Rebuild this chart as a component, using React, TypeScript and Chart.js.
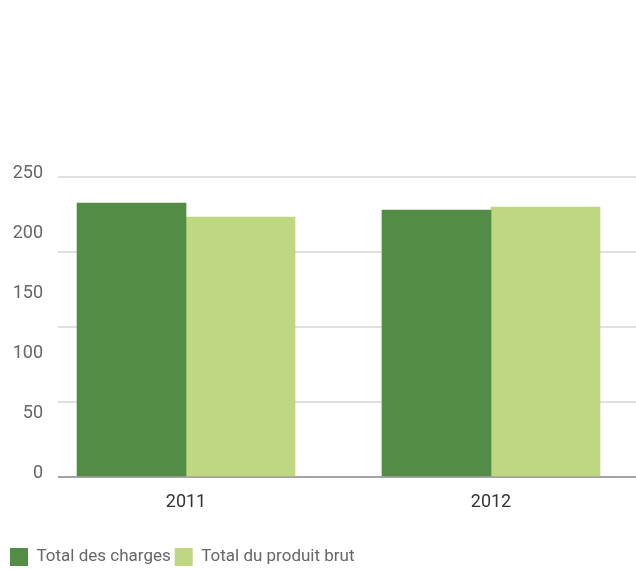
import React, { useEffect, useRef } from "react";
import { Chart, registerables } from "chart.js";

Chart.register(...registerables);

const categories = [2011, 2012];
const seriesNames = ["Total des charges", "Total du produit brut"];
const chargesValues = [228.3, 222.5];
const produitValues = [216.7, 225];
const yLabelTicks = [0, 50, 100, 150, 200, 250];
const yGridLines = [0, 62.5, 125, 187.5, 250];

const DARK = "#538d45";
const LIGHT = "#bdd880";
const FONT = "Roboto";

export default function App() {
  const ref = useRef<HTMLCanvasElement | null>(null);
  useEffect(() => {
    document.body.style.margin = "0";
    const canvas = ref.current;
    if (!canvas) return;
    const allTicks = Array.from(new Set([...yLabelTicks, ...yGridLines])).sort((a, b) => a - b);
    const chart = new Chart(canvas, {
      type: "bar",
      data: {
        datasets: [
          {
            label: seriesNames[0],
            data: categories.map((c, i) => ({ x: c, y: chargesValues[i] })),
            backgroundColor: DARK,
            borderWidth: 0,
            barThickness: 109,
          },
          {
            label: seriesNames[1],
            data: categories.map((c, i) => ({ x: c, y: produitValues[i] })),
            backgroundColor: LIGHT,
            borderWidth: 0,
            barThickness: 109,
          },
        ],
      },
      options: {
        animation: false,
        responsive: false,
        maintainAspectRatio: false,
        layout: { padding: { top: 177, left: 6, right: 0, bottom: 0 } },
        plugins: {
          tooltip: { enabled: false },
          legend: {
            position: "bottom",
            align: "start",
            maxHeight: 26,
            labels: {
              boxWidth: 18,
              boxHeight: 18,
              padding: 4,
              color: "#666",
              font: { family: FONT, size: 17 },
            },
          },
        },
        scales: {
          x: {
            type: "linear",
            offset: false,
            bounds: "data",
            min: categories[0] - 0.4197,
            max: categories[1] + 0.4754,
            afterBuildTicks: (s: any) => {
              s.ticks = categories.map((v) => ({ value: v }));
            },
            grid: { display: false },
            border: { display: false },
            ticks: {
              color: "#333",
              padding: 7,
              font: { family: FONT, size: 18 },
              callback: (v: any) => String(v),
            },
            afterFit: (s: any) => {
              s.height = 67;
            },
          },
          y: {
            min: yLabelTicks[0],
            max: yLabelTicks[yLabelTicks.length - 1],
            afterBuildTicks: (s: any) => {
              s.ticks = allTicks.map((v) => ({ value: v }));
            },
            grid: {
              drawTicks: false,
              lineWidth: 2,
              color: (ctx: any) => {
                const v = ctx.tick ? ctx.tick.value : null;
                if (v === 0) return "#a3a3a3";
                return yGridLines.includes(v) ? "#e0e0e0" : "rgba(0,0,0,0)";
              },
            },
            border: { display: false },
            ticks: {
              color: "#666",
              padding: 15,
              labelOffset: -4,
              font: { family: FONT, size: 18 },
              callback: (v: any) => (yLabelTicks.includes(v) ? String(v) : ""),
            },
            afterFit: (s: any) => {
              s.width = 52;
            },
          },
        },
      },
    });
    return () => chart.destroy();
  }, []);
  return <canvas ref={ref} width={636} height={570} style={{ display: "block" }} />;
}
